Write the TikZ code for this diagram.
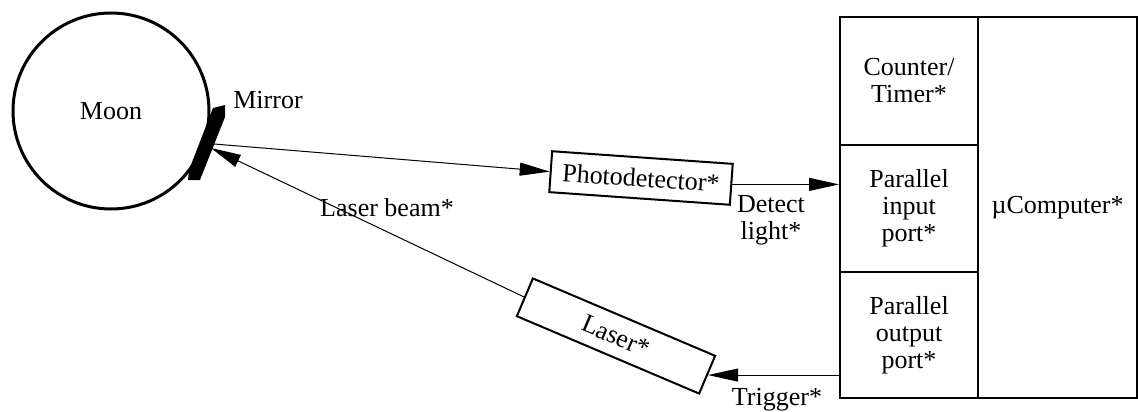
\documentclass[tikz,border=0pt]{standalone}
\usepackage{fontspec}
\setmainfont{Liberation Serif}
\usetikzlibrary{arrows.meta}
\begin{document}
\begin{tikzpicture}[x=1pt,y=-1pt,
  every node/.style={font=\fontsize{26}{27}\selectfont, inner sep=0pt},
  device/.style={draw, rectangle, line width=2pt},
  beam/.style={line width=1pt, -{Triangle[length=30pt,width=13pt]}},
  cell/.style={draw, rectangle, line width=2pt, minimum width=138pt, align=center},
]
\useasboundingbox (0,0) rectangle (1138,412);

% the Moon and its retro-reflector
\node[draw, circle, line width=3pt, minimum size=196pt] (moon) at (111,111) {Moon};
\fill (213,108) -- (225,105) -- (225,117) -- (200,180) -- (188,180) -- (189,170) -- cycle;
\coordinate (mout) at (214,144);
\coordinate (min) at (211,148);
\node (mirrorlbl) at (268,100) {Mirror};

% detector and laser
\node[device, rotate=-4, minimum width=181pt, minimum height=41pt] (pd) at (641,178) {Photodetector*};
\node[device, rotate=-23, minimum width=198pt, minimum height=41pt] (laser) at (616,336) {Laser*};

% microcomputer block
\node[cell, minimum height=128pt] (ctr) at (909,81) {Counter/\\Timer*};
\node[cell, minimum height=127pt] (pin) at (909,208.5) {Parallel\\input\\port*};
\node[cell, minimum height=126pt] (pout) at (909,335) {Parallel\\output\\port*};
\node[draw, rectangle, line width=2pt, minimum width=159pt, minimum height=381pt] (comp) at (1057.5,207.5) {µComputer*};

% light paths and signals
\draw[beam] (mout) -- (pd.west);
\draw[beam] (laser.west) -- (min);
\draw[beam] (pd.east) -- (pd.east -| pin.west);
\draw[beam] (laser.east -| pout.west) -- (laser.east);

% labels
\node (beamlbl) at (387,208) {Laser beam*};
\node[align=center] (detlbl) at (771,220) {Detect\\light*};
\node (triglbl) at (777,400) {Trigger*};
\end{tikzpicture}
\end{document}
